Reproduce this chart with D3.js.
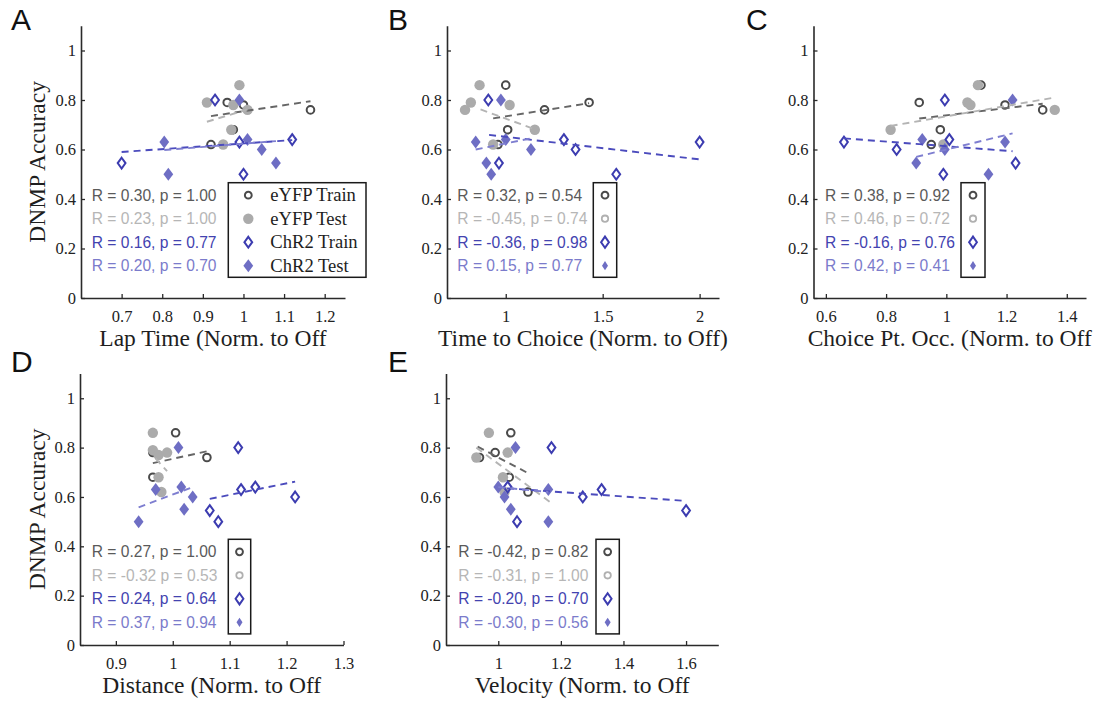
<!DOCTYPE html>
<html><head><meta charset="utf-8">
<script src="https://cdn.jsdelivr.net/npm/d3@7"></script>
<style>
body{margin:0;background:#fff;}
svg{display:block;}
</style></head><body>
<svg id="fig" width="1102" height="704"></svg>
<script>
// ---------- data ----------
const seriesNames = ["eYFP Train", "eYFP Test", "ChR2 Train", "ChR2 Test"];
const yTicks = [0, 0.2, 0.4, 0.6, 0.8, 1];
const yTitle = "DNMP Accuracy";

// A: lap time
const lapTicks = [0.7, 0.8, 0.9, 1, 1.1, 1.2];
const lapEyfpTrain = [[0.96,0.79],[1.0,0.78],[1.165,0.76],[0.975,0.68],[0.92,0.62]];
const lapEyfpTest  = [[0.99,0.86],[0.91,0.79],[0.975,0.78],[1.01,0.76],[0.97,0.68],[0.95,0.62]];
const lapChr2Train = [[0.93,0.80],[0.70,0.545],[0.99,0.63],[1.12,0.64],[1.0,0.50]];
const lapChr2Test  = [[0.99,0.80],[0.805,0.63],[0.815,0.50],[1.01,0.64],[1.045,0.60],[1.08,0.545]];
const lapFits = [[0.92,0.735,1.165,0.795],[0.91,0.712,1.01,0.762],[0.70,0.59,1.12,0.638],[0.805,0.598,1.08,0.634]];
const lapStats = ["R = 0.30, p = 1.00","R = 0.23, p = 1.00","R = 0.16, p = 0.77","R = 0.20, p = 0.70"];

// B: time to choice
const ttcTicks = [1, 1.5, 2];
const ttcEyfpTrain = [[1.0,0.86],[1.43,0.79],[1.2,0.76],[1.01,0.68],[0.96,0.62]];
const ttcEyfpTest  = [[0.865,0.86],[0.82,0.79],[0.79,0.76],[1.02,0.78],[1.15,0.68],[0.935,0.62]];
const ttcChr2Train = [[0.91,0.80],[1.30,0.64],[1.36,0.60],[0.965,0.545],[1.57,0.50],[2.0,0.63]];
const ttcChr2Test  = [[0.975,0.80],[0.845,0.63],[1.0,0.64],[1.13,0.60],[0.90,0.545],[0.925,0.50]];
const ttcFits = [[0.935,0.726,1.43,0.787],[0.87,0.762,1.16,0.679],[0.914,0.659,2.0,0.56],[0.845,0.60,1.13,0.645]];
const ttcStats = ["R = 0.32, p = 0.54","R = -0.45, p = 0.74","R = -0.36, p = 0.98","R = 0.15, p = 0.77"];

// C: choice point occupancy
const cpoTicks = [0.6, 0.8, 1, 1.2, 1.4];
const cpoEyfpTrain = [[1.115,0.86],[0.91,0.79],[1.195,0.78],[1.32,0.76],[0.98,0.68],[0.95,0.62]];
const cpoEyfpTest  = [[1.105,0.86],[1.07,0.79],[1.08,0.78],[1.36,0.76],[0.815,0.68],[0.99,0.62]];
const cpoChr2Train = [[0.995,0.80],[0.66,0.63],[1.01,0.64],[0.835,0.60],[1.23,0.545],[0.99,0.50]];
const cpoChr2Test  = [[1.22,0.80],[0.92,0.64],[0.995,0.60],[1.195,0.63],[0.90,0.545],[1.14,0.50]];
const cpoFits = [[0.91,0.725,1.32,0.785],[0.815,0.695,1.36,0.81],[0.66,0.645,1.22,0.593],[0.90,0.57,1.22,0.665]];
const cpoStats = ["R = 0.38, p = 0.92","R = 0.46, p = 0.72","R = -0.16, p = 0.76","R = 0.42, p = 0.41"];

// D: distance
const distTicks = [0.9, 1, 1.1, 1.2, 1.3];
const distEyfpTrain = [[1.005,0.86],[0.965,0.78],[1.06,0.76],[0.965,0.68]];
const distEyfpTest  = [[0.965,0.86],[0.965,0.79],[0.975,0.77],[0.99,0.78],[0.975,0.68],[0.98,0.62]];
const distChr2Train = [[1.115,0.80],[1.065,0.545],[1.08,0.50],[1.12,0.63],[1.145,0.64],[1.215,0.60]];
const distChr2Test  = [[1.01,0.80],[0.97,0.63],[1.015,0.64],[1.035,0.60],[1.02,0.55],[0.94,0.50]];
const distFits = [[0.965,0.737,1.06,0.785],[0.97,0.755,0.99,0.705],[1.065,0.592,1.215,0.662],[0.94,0.558,1.035,0.64]];
const distStats = ["R = 0.27, p = 1.00","R = -0.32 p = 0.53","R = 0.24, p = 0.64","R = 0.37, p = 0.94"];

// E: velocity
const velTicks = [1, 1.2, 1.4, 1.6];
const velEyfpTrain = [[1.04,0.86],[0.99,0.78],[0.94,0.76],[1.035,0.68],[1.095,0.62]];
const velEyfpTest  = [[0.97,0.86],[1.03,0.78],[0.93,0.76],[1.015,0.68],[1.02,0.62]];
const velChr2Train = [[1.17,0.80],[1.03,0.64],[1.27,0.60],[1.33,0.63],[1.06,0.50],[1.60,0.545]];
const velChr2Test  = [[1.055,0.80],[1.0,0.64],[1.16,0.63],[1.02,0.60],[1.04,0.55],[1.16,0.50]];
const velFits = [[0.934,0.804,1.09,0.70],[0.93,0.80,1.165,0.58],[1.028,0.635,1.60,0.584],[1.0,0.64,1.16,0.62]];
const velStats = ["R = -0.42, p = 0.82","R = -0.31, p = 1.00","R = -0.20, p = 0.70","R = -0.30, p = 0.56"];

// ---------- styles ----------
const sans = "'Liberation Sans', Arial, sans-serif";
const serif = "'Liberation Serif', 'Times New Roman', serif";
const statColors = ["#5a5a5a", "#b6b6b6", "#4343b0", "#7b7bcb"];
const fitColors = ["#666666", "#b4b4b4", "#4b4bbd", "#7e7ed0"];
const markerStyles = [
  {shape: "circle", r: 3.8, fill: "none", stroke: "#4a4a4a", sw: 2},
  {shape: "circle", r: 5.2, fill: "#ababab", stroke: "none", sw: 0},
  {shape: "diamond", w: 3.9, h: 5.4, fill: "none", stroke: "#3c3cb0", sw: 2},
  {shape: "diamond", w: 4.9, h: 6.5, fill: "#6e6ec4", stroke: "none", sw: 0}
];
const keyStyles = [
  {shape: "circle", r: 3.4, fill: "none", stroke: "#4a4a4a", sw: 2},
  {shape: "circle", r: 3.2, fill: "none", stroke: "#b0b0b0", sw: 1.8},
  {shape: "diamond", w: 3.9, h: 5.6, fill: "none", stroke: "#3c3cb0", sw: 2},
  {shape: "diamond", w: 3.0, h: 4.6, fill: "#6e6ec4", stroke: "none", sw: 0}
];

// ---------- layout ----------
const panels = [
  {letter: "A", lx: 11, ly: 30, left: 81, right: 345, xDomain: [0.6, 1.25], bottom: 298, top: 25.75,
   ticks: lapTicks, title: "Lap Time (Norm. to Off", showY: true,
   series: [lapEyfpTrain, lapEyfpTest, lapChr2Train, lapChr2Test], fits: lapFits, stats: lapStats,
   statX: 91.7, boxTop: 182.7, box: [228.3, 366], fullLegend: true},
  {letter: "B", lx: 388, ly: 30, left: 447, right: 719, xDomain: [0.697, 2.1], bottom: 298, top: 25.75,
   ticks: ttcTicks, title: "Time to Choice (Norm. to Off)", showY: false,
   series: [ttcEyfpTrain, ttcEyfpTest, ttcChr2Train, ttcChr2Test], fits: ttcFits, stats: ttcStats,
   statX: 457.3, boxTop: 182.7, box: [593.3, 616.7], fullLegend: false},
  {letter: "C", lx: 746, ly: 30, left: 813.5, right: 1086, xDomain: [0.5589, 1.4638], bottom: 298, top: 25.75,
   ticks: cpoTicks, title: "Choice Pt. Occ. (Norm. to Off", showY: false,
   series: [cpoEyfpTrain, cpoEyfpTest, cpoChr2Train, cpoChr2Test], fits: cpoFits, stats: cpoStats,
   statX: 825, boxTop: 182.7, box: [961, 985], fullLegend: false},
  {letter: "D", lx: 11, ly: 372, left: 80, right: 343.5, xDomain: [0.837, 1.3], bottom: 645, top: 373.6,
   ticks: distTicks, title: "Distance (Norm. to Off", showY: true,
   series: [distEyfpTrain, distEyfpTest, distChr2Train, distChr2Test], fits: distFits, stats: distStats,
   statX: 91.7, boxTop: 539.3, box: [228.3, 250.7], fullLegend: false},
  {letter: "E", lx: 388, ly: 372, left: 446, right: 718.3, xDomain: [0.833, 1.703], bottom: 645, top: 373.6,
   ticks: velTicks, title: "Velocity (Norm. to Off", showY: false,
   series: [velEyfpTrain, velEyfpTest, velChr2Train, velChr2Test], fits: velFits, stats: velStats,
   statX: 458.3, boxTop: 539.3, box: [596, 619.3], fullLegend: false}
];

const svg = d3.select("#fig");

function markerPath(s) {
  if (s.shape === "circle") {
    const p = d3.path(); p.arc(0, 0, s.r, 0, 2 * Math.PI); p.closePath(); return p.toString();
  }
  return `M0,${-s.h}L${s.w},0L0,${s.h}L${-s.w},0Z`;
}

function drawMarker(g, s, cx, cy) {
  g.append("path")
    .attr("d", markerPath(s))
    .attr("transform", `translate(${cx},${cy})`)
    .attr("fill", s.fill)
    .attr("stroke", s.stroke)
    .attr("stroke-width", s.sw);
}

const fmt = d => (Math.round(d * 10) / 10).toString();

panels.forEach(p => {
  const g = svg.append("g");
  const x = d3.scaleLinear().domain(p.xDomain).range([p.left, p.right]);
  const y = d3.scaleLinear().domain([0, 1.1]).range([p.bottom, p.top]);

  // panel letter
  g.append("text").attr("x", p.lx).attr("y", p.ly)
    .attr("font-family", sans).attr("font-size", 30).attr("fill", "#111").text(p.letter);

  // axes with inward ticks
  const xa = g.append("g").attr("transform", `translate(0,${p.bottom})`)
    .call(d3.axisBottom(x).tickValues(p.ticks).tickFormat(fmt).tickSizeInner(-4).tickSizeOuter(0).tickPadding(12));
  const ya = g.append("g").attr("transform", `translate(${p.left},0)`)
    .call(d3.axisLeft(y).tickValues(yTicks).tickFormat(fmt).tickSizeInner(-4).tickSizeOuter(0).tickPadding(5));
  [xa, ya].forEach(a => {
    a.select(".domain").attr("stroke", "#2a2a2a").attr("stroke-width", 1.6);
    a.selectAll(".tick line").attr("stroke", "#2a2a2a").attr("stroke-width", 1.3);
    a.selectAll(".tick text").attr("font-family", serif).attr("font-size", 16.5).attr("fill", "#222");
  });

  // axis titles
  g.append("text").attr("x", (p.left + p.right) / 2).attr("y", p.bottom + 47.5)
    .attr("text-anchor", "middle").attr("font-family", serif).attr("font-size", 23.5)
    .attr("fill", "#1e1e1e").text(p.title);
  if (p.showY) {
    g.append("text")
      .attr("transform", `translate(45,${(p.top + p.bottom) / 2}) rotate(-90)`)
      .attr("text-anchor", "middle").attr("font-family", serif).attr("font-size", 23.5)
      .attr("fill", "#1e1e1e").text(yTitle);
  }

  // scatter markers
  p.series.forEach((pts, i) => {
    const sg = g.append("g");
    pts.forEach(d => drawMarker(sg, markerStyles[i], x(d[0]), y(d[1])));
  });

  // fitted trend lines
  p.fits.forEach((f, i) => {
    g.append("line")
      .attr("x1", x(f[0])).attr("y1", y(f[1])).attr("x2", x(f[2])).attr("y2", y(f[3]))
      .attr("stroke", fitColors[i]).attr("stroke-width", 1.9).attr("stroke-dasharray", "7,5");
  });

  // correlation statistics
  const rowY = i => p.boxTop + 12.5 + i * 23.5;
  p.stats.forEach((t, i) => {
    g.append("text").attr("x", p.statX).attr("y", rowY(i)).attr("dy", "0.36em")
      .attr("font-family", sans).attr("font-size", 15.6).attr("fill", statColors[i]).text(t);
  });

  // legend / key box
  g.append("rect").attr("x", p.box[0]).attr("y", p.boxTop)
    .attr("width", p.box[1] - p.box[0]).attr("height", 94.6)
    .attr("fill", p.fullLegend ? "#fff" : "none").attr("stroke", "#1a1a1a").attr("stroke-width", 1.5);
  if (p.fullLegend) {
    seriesNames.forEach((name, i) => {
      const st = i === 0 ? keyStyles[0] : markerStyles[i];
      drawMarker(g, st, p.box[0] + 20, rowY(i));
      g.append("text").attr("x", p.box[0] + 42).attr("y", rowY(i)).attr("dy", "0.33em")
        .attr("font-family", serif).attr("font-size", 18.6).attr("fill", "#1e1e1e").text(name);
    });
  } else {
    const mx = (p.box[0] + p.box[1]) / 2;
    keyStyles.forEach((st, i) => drawMarker(g, st, mx, rowY(i)));
  }
});
</script>
</body></html>
